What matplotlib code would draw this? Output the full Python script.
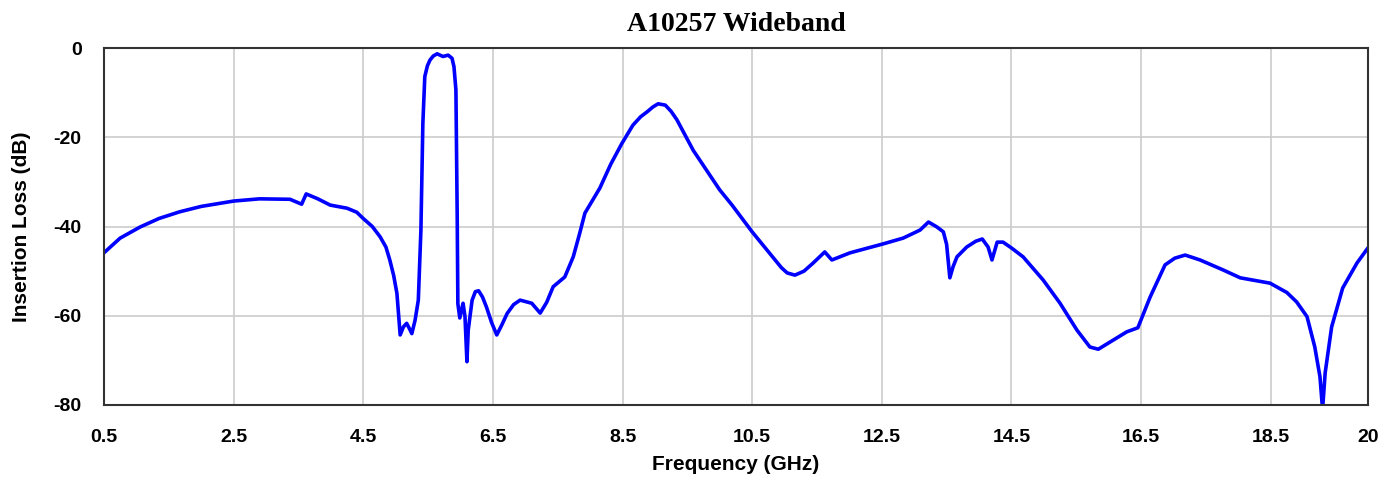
import numpy as np
import matplotlib
matplotlib.use("Agg")
import matplotlib.pyplot as plt

plt.rcParams['axes.unicode_minus'] = False

# insertion loss trace (GHz, dB)
freq_ghz = [
    0.5, 0.75, 1.06, 1.35, 1.67, 2.0, 2.5, 2.9, 3.37, 3.55, 3.62, 3.8, 3.99,
    4.25, 4.4, 4.5, 4.64, 4.76, 4.85, 4.91, 4.97, 5.02, 5.07, 5.12, 5.17,
    5.21, 5.25, 5.3, 5.35, 5.39, 5.42, 5.45, 5.49, 5.53, 5.58, 5.64, 5.73,
    5.81, 5.87, 5.9, 5.93, 5.95, 5.96, 5.99, 6.04, 6.07, 6.1, 6.12, 6.18,
    6.23, 6.28, 6.34, 6.4, 6.48, 6.56, 6.64, 6.72, 6.82, 6.92, 7.1, 7.23,
    7.33, 7.43, 7.61, 7.74, 7.84, 7.92, 8.15, 8.32, 8.49, 8.66, 8.78, 8.88,
    8.97, 9.05, 9.16, 9.25, 9.34, 9.59, 10.0, 10.19, 10.5, 10.77, 10.95,
    11.04, 11.16, 11.3, 11.44, 11.62, 11.73, 12.01, 12.52, 12.83, 13.09,
    13.22, 13.35, 13.45, 13.5, 13.55, 13.6, 13.66, 13.81, 13.95, 14.05,
    14.14, 14.2, 14.28, 14.37, 14.5, 14.68, 14.99, 15.25, 15.51, 15.71,
    15.84, 16.02, 16.28, 16.45, 16.64, 16.87, 17.02, 17.18, 17.41, 17.76,
    18.03, 18.49, 18.75, 18.9, 19.06, 19.18, 19.26, 19.3, 19.34, 19.44,
    19.61, 19.83, 20.0,
]
loss_db = [
    -45.9, -42.6, -40.1, -38.2, -36.7, -35.5, -34.3, -33.8, -33.9, -35.0,
    -32.7, -33.8, -35.2, -35.9, -36.8, -38.2, -40.0, -42.3, -44.6, -47.5,
    -51.0, -55.0, -64.3, -62.5, -61.7, -62.8, -64.0, -61.0, -56.5, -40.8,
    -16.9, -6.4, -4.0, -2.7, -1.8, -1.3, -1.9, -1.6, -2.3, -4.2, -9.4,
    -37.8, -57.3, -60.5, -57.2, -60.2, -70.3, -63.2, -56.5, -54.6, -54.4,
    -55.8, -58.0, -61.5, -64.3, -62.0, -59.5, -57.5, -56.5, -57.2, -59.4,
    -57.0, -53.5, -51.3, -46.8, -41.5, -37.0, -31.4, -26.0, -21.4, -17.3,
    -15.4, -14.3, -13.2, -12.5, -12.8, -14.2, -16.1, -22.9, -31.8, -35.2,
    -41.2, -46.0, -49.2, -50.4, -50.9, -50.0, -48.2, -45.7, -47.5, -45.9,
    -43.9, -42.6, -40.8, -39.0, -40.1, -41.2, -44.0, -51.5, -49.0, -46.8,
    -44.6, -43.3, -42.8, -44.6, -47.5, -43.5, -43.5, -44.8, -46.8, -52.0,
    -57.2, -63.2, -67.0, -67.5, -65.9, -63.6, -62.7, -55.8, -48.6, -47.1,
    -46.4, -47.5, -49.7, -51.5, -52.7, -54.8, -56.9, -60.2, -67.0, -73.7,
    -81.0, -72.8, -62.5, -53.8, -48.2, -44.8,
]
x_ticks = [0.5, 2.5, 4.5, 6.5, 8.5, 10.5, 12.5, 14.5, 16.5, 18.5, 20]
y_ticks = [0, -20, -40, -60, -80]

fig = plt.figure(figsize=(13.97, 4.83), dpi=100)
ax = fig.add_axes([0.0744, 0.1615, 0.9048, 0.7391])

ax.plot(freq_ghz, loss_db, color="#0000ff", linewidth=2.6, solid_joinstyle="round")

ax.set_xlim(0.5, 20)
ax.set_ylim(-80, 0)
ax.set_xticks(x_ticks)
ax.set_xticklabels([f"{t:g}" for t in x_ticks])
ax.set_yticks(y_ticks)
ax.grid(True, color="#cccccc", linewidth=1.2)
ax.set_axisbelow(True)
ax.tick_params(length=0, labelsize=14)
ax.tick_params(axis="x", pad=17)
ax.tick_params(axis="y", pad=16)
for lab in ax.get_xticklabels() + ax.get_yticklabels():
    lab.set_fontfamily("Liberation Sans")
    lab.set_fontweight("bold")
for s in ax.spines.values():
    s.set_color("#333333")
    s.set_linewidth(1.5)

ax.set_xlabel("Frequency (GHz)", fontfamily="Liberation Sans", fontweight="bold",
              fontsize=15, labelpad=7)
ax.set_ylabel("Insertion Loss (dB)", fontfamily="Liberation Sans", fontweight="bold",
              fontsize=15, labelpad=16)
ax.set_title("A10257 Wideband", fontfamily="Liberation Serif", fontweight="bold",
             fontsize=20, pad=12)

fig.savefig("out.png", dpi=100)
